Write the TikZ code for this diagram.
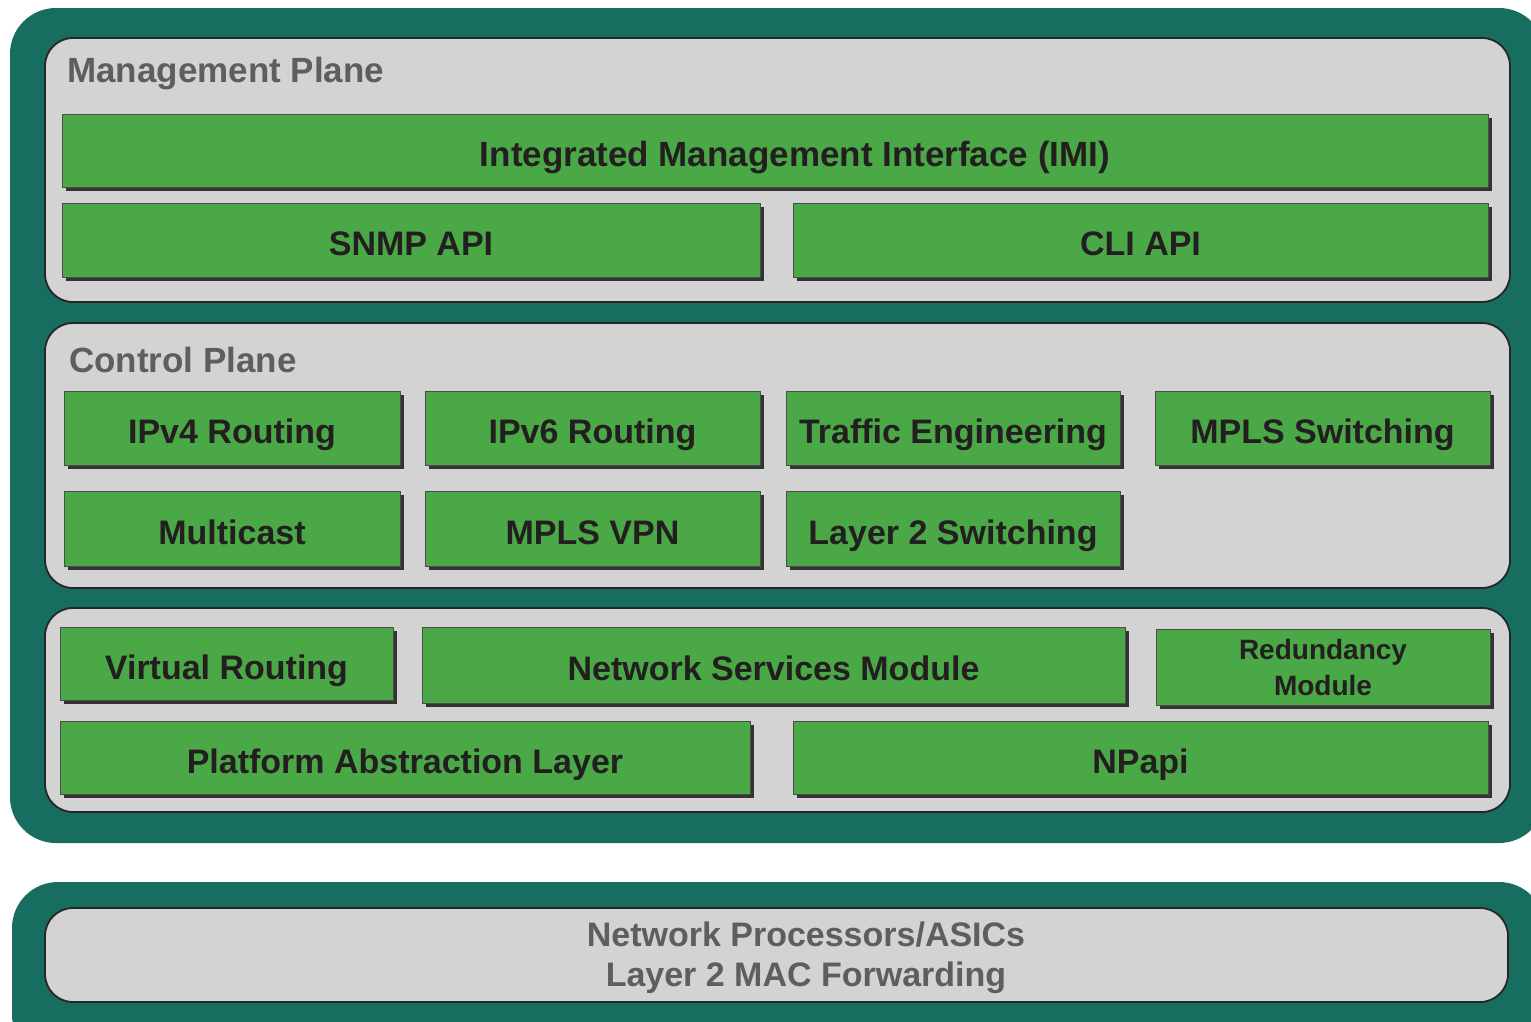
\documentclass[tikz,border=0pt]{standalone}
\usepackage{fontspec}
\setmainfont{Liberation Sans}
\usetikzlibrary{shadows}
\definecolor{teal}{HTML}{176D60}
\definecolor{panel}{HTML}{D2D3D2}
\definecolor{gr}{HTML}{4BA846}
\definecolor{txt}{HTML}{231F20}
\definecolor{ttl}{HTML}{5E5E5E}
\newcommand{\mkbox}[6]{%
  \node[gbox, minimum width={(#4)-(#2)}, minimum height={(#5)-(#3)}] (#1) at ({((#2)+(#4))/2},{((#3)+(#5))/2}) {#6};}
\newcommand{\mkpanel}[6]{%
  \node[#6, minimum width={(#4)-(#2)}, minimum height={(#5)-(#3)}] (#1) at ({((#2)+(#4))/2},{((#3)+(#5))/2}) {};}
\begin{document}
\begin{tikzpicture}[x=1pt,y=-1pt,
  outerbox/.style={fill=teal, rounded corners=46pt, inner sep=0, outer sep=0},
  panelbox/.style={fill=panel, draw=black!85, line width=1.8pt, rounded corners=28pt, inner sep=0, outer sep=0},
  gboxbase/.style={fill=gr, draw=black!70, line width=0.8pt, inner sep=0, outer sep=0,
    text=txt, align=center,
    drop shadow={shadow xshift=4pt, shadow yshift=-4pt, fill=black!80, opacity=1}},
  gbox/.style={gboxbase, font=\fontsize{34}{36}\selectfont\bfseries, text height=31pt, text depth=0pt},
  ttlstyle/.style={text=ttl, font=\fontsize{35}{36}\selectfont\bfseries, inner sep=0, anchor=west}]
\useasboundingbox (0,0) rectangle (1531,1021);
\fill[white] (0,0) rectangle (1531,1021);
% outer teal frames
\mkpanel{outerTop}{10}{8}{1545}{843}{outerbox}
\mkpanel{outerBot}{12}{882}{1545}{1060}{outerbox}
% panels
\mkpanel{mgmt}{45}{38}{1510}{302}{panelbox}
\mkpanel{ctrl}{45}{323}{1510}{588}{panelbox}
\mkpanel{plat}{45}{608}{1510}{812}{panelbox}
\mkpanel{hw}{45}{908}{1508}{1002}{panelbox}
\node[ttlstyle] (mgmtT) at (67,74) {Management Plane};
\node[ttlstyle] (ctrlT) at (69,360) {Control Plane};
\node[text=ttl, font=\fontsize{34}{40}\selectfont\bfseries, align=center, inner sep=0] (hwT) at (806,958) {Network Processors/ASICs\\Layer 2 MAC Forwarding};
% management
\mkbox{imi}{62}{114}{1488}{187}{\hspace*{40pt}\fontsize{35}{36}\selectfont Integrated Management Interface (IMI)}
\mkbox{snmp}{62}{203}{760}{277}{SNMP API}
\mkbox{cli}{793}{203}{1488}{277}{CLI API}
% control
\mkbox{ipv4}{64}{391}{400}{465}{IPv4 Routing}
\mkbox{ipv6}{425}{391}{760}{465}{IPv6 Routing}
\mkbox{te}{786}{391}{1120}{465}{Traffic Engineering}
\mkbox{mplss}{1155}{391}{1490}{465}{MPLS Switching}
\mkbox{mcast}{64}{491}{400}{566}{Multicast}
\mkbox{mvpn}{425}{491}{760}{566}{MPLS VPN}
\mkbox{l2s}{786}{491}{1120}{566}{Layer 2 Switching}
% platform
\mkbox{vr}{60}{627}{393}{700}{Virtual Routing}
\mkbox{nsm}{422}{627}{1125}{703}{Network Services Module}
\node[gboxbase, minimum width=334, minimum height=76, font=\fontsize{28}{36}\selectfont\bfseries] (red) at (1323,667) {Redundancy\\Module};
\mkbox{pal}{60}{721}{750}{794}{Platform Abstraction Layer}
\mkbox{npapi}{793}{721}{1488}{794}{NPapi}
\end{tikzpicture}
\end{document}
